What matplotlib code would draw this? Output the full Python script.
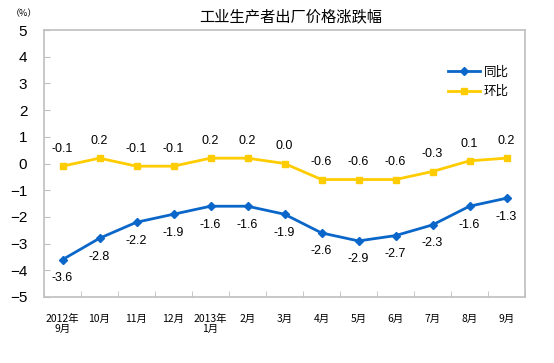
import matplotlib

matplotlib.use("Agg")
import matplotlib.pyplot as plt
import numpy as np

plt.rcParams["font.family"] = ["Liberation Sans", "Noto Sans CJK SC", "DejaVu Sans"]

MONTHS = ["2012年\n9月", "10月", "11月", "12月", "2013年\n1月", "2月", "3月",
          "4月", "5月", "6月", "7月", "8月", "9月"]
YOY = [-3.6, -2.8, -2.2, -1.9, -1.6, -1.6, -1.9, -2.6, -2.9, -2.7, -2.3, -1.6, -1.3]
MOM = [-0.1, 0.2, -0.1, -0.1, 0.2, 0.2, 0.0, -0.6, -0.6, -0.6, -0.3, 0.1, 0.2]

BLUE = "#0a66c8"
YELLOW = "#ffcc00"
GRAY = "#bfbfbf"

fig = plt.figure(figsize=(5.54, 3.63), dpi=100)
ax = fig.add_axes((44 / 554, 1 - 297 / 363, 481 / 554, 267 / 363))

x = np.arange(len(MONTHS))
ax.plot(x, YOY, color=BLUE, marker="D", markersize=4, linewidth=2, label="同比")
ax.plot(x, MOM, color=YELLOW, marker="s", markersize=5, linewidth=2, label="环比")

for xi, v in zip(x, YOY):
    ax.annotate(f"{v:.1f}", (xi, v), xytext=(0, -9), textcoords="offset points",
                ha="center", va="top", fontsize=9)
for xi, v in zip(x, MOM):
    ax.annotate(f"{v:.1f}", (xi, v), xytext=(0, 8), textcoords="offset points",
                ha="center", va="bottom", fontsize=9)

ax.set_xlim(-0.5, len(MONTHS) - 0.5)
ax.set_ylim(-5, 5)
ax.set_yticks(range(-5, 6))
ax.set_xticks(x)
ax.set_xticklabels(MONTHS, fontsize=7.5, family=["Noto Sans CJK SC"], linespacing=1.05)
ax.set_xticks(np.arange(-0.5, len(MONTHS)), minor=True)
ax.tick_params(axis="x", which="major", length=0, pad=12)
ax.tick_params(axis="x", which="minor", direction="in", length=4, color=GRAY)
ax.tick_params(axis="y", direction="in", length=4, color=GRAY, labelsize=11, pad=12)
for s in ax.spines.values():
    s.set_color(GRAY)
    s.set_linewidth(1.2)

ax.legend(loc="upper right", bbox_to_anchor=(0.99, 0.91), frameon=False,
          prop={"family": ["Noto Sans CJK SC"], "size": 9},
          handlelength=2.6, handletextpad=0.3, labelspacing=0.55)

fig.text(291 / 554, 1 - 17 / 363, "工业生产者出厂价格涨跌幅", ha="center", va="center",
         fontsize=11, family=["Noto Sans CJK SC"])
fig.text(24 / 554, 1 - 14 / 363, "（%）", ha="center", va="center", fontsize=6.5,
         family=["Noto Sans CJK SC"])

fig.savefig("out.png", dpi=100)
